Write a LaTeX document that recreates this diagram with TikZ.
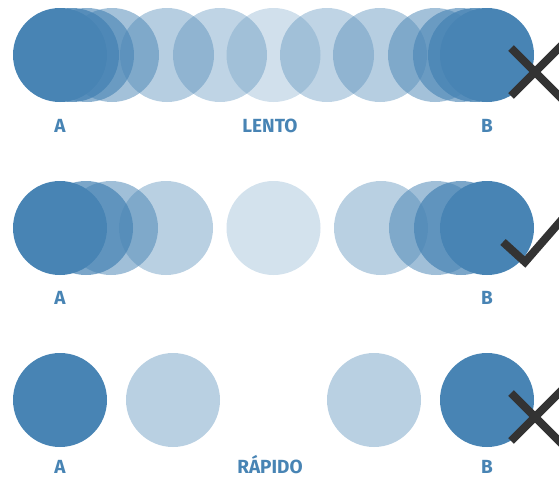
\documentclass[tikz,border=0pt]{standalone}
\usepackage{fontspec}
\setmainfont{Fira Sans}
\definecolor{cblue}{RGB}{72,132,180}
\definecolor{markgray}{RGB}{51,51,51}
\begin{document}
\begin{tikzpicture}[x=1pt,y=-1pt,
  dot/.style={circle,inner sep=0pt,minimum size=94pt,fill=cblue,draw=none},
  lbl/.style={font=\fontsize{19}{19}\selectfont\bfseries,text=cblue,anchor=base,inner sep=0pt},
  markline/.style={draw=markgray,line width=8pt}]
\useasboundingbox (0,0) rectangle (559,479);
\clip (0,0) rectangle (559,479);
% row 1 (LENTO)
\foreach \x/\o [count=\i] in {60/1,72/0.8,87/0.62,112/0.5,167/0.4,220/0.35,273.5/0.25,327/0.35,380/0.4,435/0.5,460/0.62,475/0.8,487/1}
  \node[dot,fill opacity=\o] (r1-\i) at (\x,55) {};
% row 2
\foreach \x/\o [count=\i] in {60/1,86/0.72,111/0.52,166/0.38,273.5/0.24,381/0.38,436/0.52,461/0.72,487/1}
  \node[dot,fill opacity=\o] (r2-\i) at (\x,228) {};
% row 3 (RAPIDO)
\foreach \x/\o [count=\i] in {60/1,173/0.38,374/0.38,487/1}
  \node[dot,fill opacity=\o] (r3-\i) at (\x,400) {};
% labels
\node[lbl] (la1) at (60,132) {A};
\node[lbl] (lento) at (270,132) {LENTO};
\node[lbl] (lb1) at (487,132) {B};
\node[lbl] (la2) at (60,304) {A};
\node[lbl] (lb2) at (487,304) {B};
\node[lbl] (la3) at (60,473) {A};
\node[lbl] (rapido) at (270,473) {RÁPIDO};
\node[lbl] (lb3) at (487,473) {B};
% marks
\coordinate (x1c) at (535,72);
\draw[markline] ([shift={(-24,-24)}]x1c) -- ([shift={(30,30)}]x1c);
\draw[markline] ([shift={(-24,24)}]x1c) -- ([shift={(30,-30)}]x1c);
\coordinate (x3c) at (535,417);
\draw[markline] ([shift={(-24,-24)}]x3c) -- ([shift={(30,30)}]x3c);
\draw[markline] ([shift={(-24,24)}]x3c) -- ([shift={(30,-30)}]x3c);
\coordinate (ck1) at (503,242);
\coordinate (ck2) at (525,262);
\coordinate (ck3) at (572,208);
\draw[markline] (ck1) -- (ck2) -- (ck3);
\end{tikzpicture}
\end{document}
